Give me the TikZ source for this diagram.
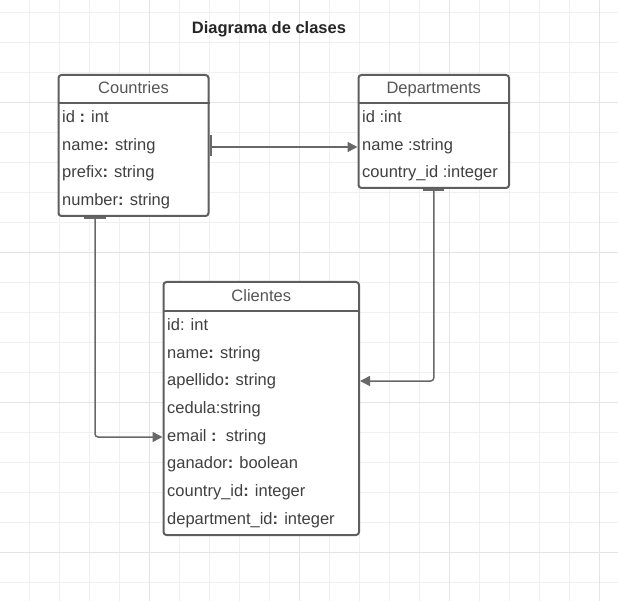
\documentclass[tikz,border=0pt]{standalone}
\usepackage{fontspec}
\setmainfont{Liberation Sans}
\usetikzlibrary{arrows.meta,calc}
\definecolor{gridminor}{HTML}{F0F0F0}
\definecolor{gridmajor}{HTML}{E4E4E4}
\definecolor{boxline}{HTML}{5E5E5E}
\definecolor{txt}{HTML}{404040}
\definecolor{hdrtxt}{HTML}{555555}
\definecolor{conncol}{HTML}{686868}
\begin{document}
\begin{tikzpicture}[x=1pt,y=-1pt,
  entity/.style={draw=boxline,line width=2pt,fill=white,rounded corners=3pt,inner sep=0pt},
  sepline/.style={draw=boxline,line width=2pt},
  attr/.style={anchor=west,inner sep=0pt,text=txt,font=\fontsize{16.5}{19}\selectfont,text height=12pt,text depth=3.5pt},
  hdr/.style={inner sep=0pt,text=hdrtxt,font=\fontsize{16.5}{19}\selectfont,text height=12pt,text depth=3.5pt},
  conn/.style={draw=conncol,line width=1.5pt,rounded corners=3pt,-{Triangle[length=10pt,width=10pt]}},
  onemark/.style={draw=conncol,line width=2.5pt}
]
\useasboundingbox (0,0) rectangle (618,601);
\fill[white] (0,0) rectangle (618,601);
% grid
\foreach \i in {0,...,19} {
  \draw[gridminor,line width=1pt] (29.5+30*\i,0) -- (29.5+30*\i,601);
  \draw[gridminor,line width=1pt] (0,12.5+30*\i) -- (618,12.5+30*\i);
}
\foreach \i in {4,9,14,19} {
  \draw[gridmajor,line width=1pt] (29.5+30*\i,0) -- (29.5+30*\i,601);
}
\foreach \i in {3,8,13,18} {
  \draw[gridmajor,line width=1pt] (0,12.5+30*\i) -- (618,12.5+30*\i);
}

% title
\node[inner sep=0pt,text=black!85,font=\bfseries\fontsize{16.5}{19}\selectfont,text height=12pt,text depth=3.5pt] (title) at (269,29.5) {Diagrama de clases};

% Countries
\node[entity,minimum width=150pt,minimum height=141pt] (countries) at (133.5,145.5) {};
\draw[sepline] ($(countries.north west)+(0,29)$) -- ($(countries.north east)+(0,29)$);
\node[hdr] (countries-t) at ($(countries.north)+(0,15.5)$) {Countries};
\node[attr] (c-id) at ($(countries.north west)+(4.5,44.5)$) {id \textbf{:} int};
\node[attr] (c-name) at ($(countries.north west)+(4.5,72.5)$) {name\textbf{:} string};
\node[attr] (c-prefix) at ($(countries.north west)+(4.5,99.5)$) {prefix\textbf{:} string};
\node[attr] (c-number) at ($(countries.north west)+(4.5,127.5)$) {number\textbf{:} string};

% Departments
\node[entity,minimum width=150.5pt,minimum height=113pt] (departments) at (433.75,131.5) {};
\draw[sepline] ($(departments.north west)+(0,29)$) -- ($(departments.north east)+(0,29)$);
\node[hdr] (departments-t) at ($(departments.north)+(0,15.5)$) {Departments};
\node[attr] (d-id) at ($(departments.north west)+(4.5,44.5)$) {id :int};
\node[attr] (d-name) at ($(departments.north west)+(4.5,72.5)$) {name :string};
\node[attr] (d-country) at ($(departments.north west)+(4.5,99.5)$) {country\_id :integer};

% Clientes
\node[entity,minimum width=195.5pt,minimum height=253pt] (clientes) at (261.25,408.5) {};
\draw[sepline] ($(clientes.north west)+(0,30)$) -- ($(clientes.north east)+(0,30)$);
\node[hdr] (clientes-t) at ($(clientes.north)+(0,16)$) {Clientes};
\node[attr] (k-id) at ($(clientes.north west)+(4.5,45.5)$) {id: int};
\node[attr] (k-name) at ($(clientes.north west)+(4.5,73.5)$) {name\textbf{:} string};
\node[attr] (k-apellido) at ($(clientes.north west)+(4.5,100.5)$) {apellido\textbf{:} string};
\node[attr] (k-cedula) at ($(clientes.north west)+(4.5,128.5)$) {cedula:string};
\node[attr] (k-email) at ($(clientes.north west)+(4.5,156.5)$) {email \textbf{:}\ \ string};
\node[attr] (k-ganador) at ($(clientes.north west)+(4.5,183.5)$) {ganador\textbf{:} boolean};
\node[attr] (k-country) at ($(clientes.north west)+(4.5,211.5)$) {country\_id\textbf{:} integer};
\node[attr] (k-dept) at ($(clientes.north west)+(4.5,239.5)$) {department\_id\textbf{:} integer};

% connectors
\draw[conn] ([yshift=-1.5pt]countries.east) -- ([yshift=-1.5pt]countries.east -| departments.west);
\draw[onemark] ([xshift=1.5pt,yshift=10pt]countries.east) -- ([xshift=1.5pt,yshift=-11pt]countries.east);

\draw[conn] ([xshift=-38.5pt]countries.south) |- ([yshift=-28.5pt]clientes.west);
\draw[onemark] ([xshift=-49.5pt,yshift=-1pt]countries.south) -- ([xshift=-27.5pt,yshift=-1pt]countries.south);

\draw[conn] (departments.south) |- ([yshift=27.5pt]clientes.east);
\draw[onemark] ([xshift=-10.5pt,yshift=-1pt]departments.south) -- ([xshift=10.5pt,yshift=-1pt]departments.south);
\end{tikzpicture}
\end{document}
